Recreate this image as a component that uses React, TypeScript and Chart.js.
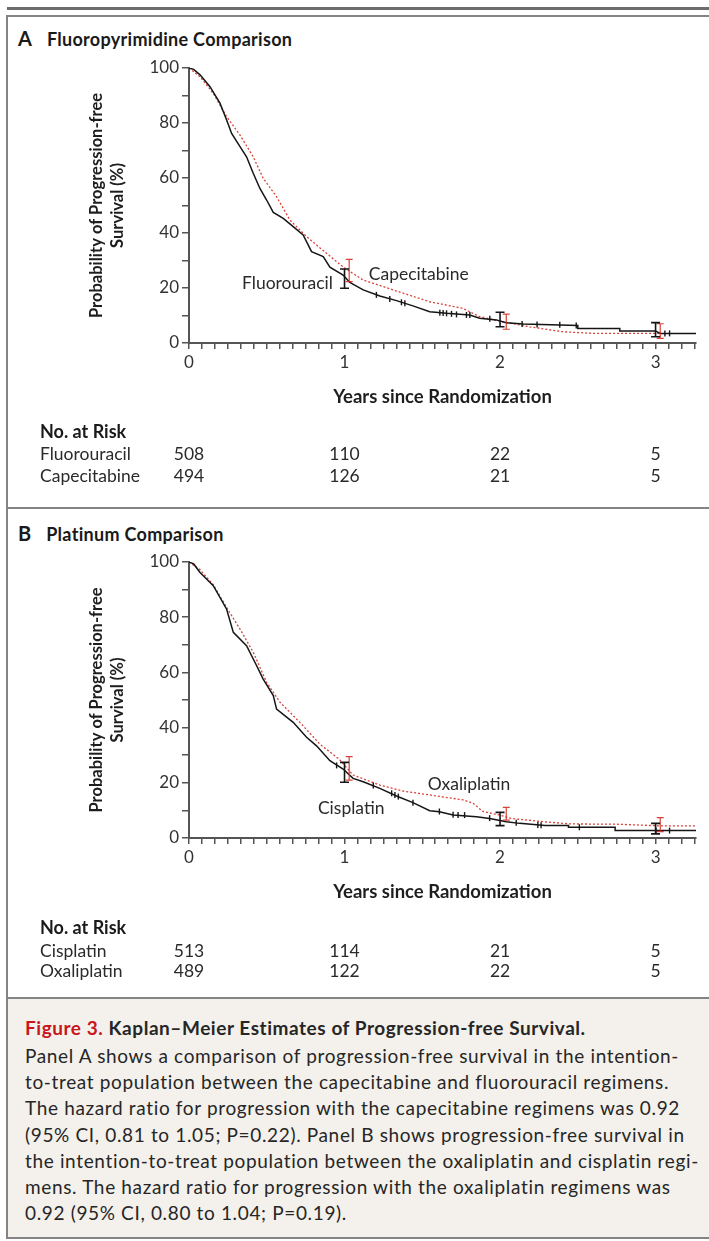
import React, { useEffect, useRef } from 'react';
import { Chart, registerables } from 'chart.js';

Chart.register(...registerables);

// ---------- shared axis data ----------
const X_MAX = 3.26;
const X_TICK_LABELS = ['0', '1', '2', '3'];
const Y_TICK_LABELS = ['0', '20', '40', '60', '80', '100'];
const RISK_TIMES = [0, 1, 2, 3];

// ---------- Panel A: Fluoropyrimidine comparison ----------
const A_FLUORO_T = [0, 0.03, 0.071, 0.135, 0.199, 0.242, 0.274, 0.328, 0.37, 0.413, 0.456, 0.499, 0.542, 0.606, 0.67, 0.734, 0.788, 0.863, 0.906, 0.991, 1.034, 1.12, 1.227, 1.334, 1.44, 1.548, 1.655, 1.805, 1.869, 1.976, 2.04, 2.15, 2.5, 2.5, 2.77, 2.77, 3.0, 3.03, 3.26];
const A_FLUORO_S = [100, 99.5, 97.5, 93.2, 87.2, 81.1, 76.2, 71.4, 67.7, 61.7, 56.2, 52, 47.5, 45.3, 42.3, 39.3, 33.2, 31.4, 27.6, 24.7, 22, 19.3, 17.1, 15.4, 13.5, 11.4, 10.8, 10.2, 9.0, 8.4, 7.4, 6.9, 6.4, 5.3, 5.3, 4.4, 4.4, 3.5, 3.5];
const A_CAPE_T = [0, 0.071, 0.156, 0.242, 0.328, 0.413, 0.477, 0.563, 0.649, 0.756, 0.884, 0.991, 1.034, 1.12, 1.334, 1.548, 1.76, 1.869, 2.019, 2.19, 2.4, 2.6, 3.03];
const A_CAPE_S = [100, 96.8, 90.8, 82.3, 75.6, 67.7, 59.9, 53.2, 44.7, 38.7, 32.6, 27.7, 26, 22.9, 18.9, 15.0, 12.6, 9.6, 7.7, 5.9, 4.1, 3.5, 3.5];
const A_FLUORO_CENSOR_T = [1.205, 1.291, 1.366, 1.388, 1.613, 1.634, 1.656, 1.688, 1.72, 1.784, 1.806, 1.934, 2.142, 2.238, 2.384, 2.49, 3.06, 3.09];
const A_FLUORO_CENSOR_S = [17.5, 16.0, 14.8, 14.5, 11.0, 10.9, 10.8, 10.6, 10.4, 10.2, 10.2, 8.8, 6.9, 6.7, 6.6, 6.4, 3.5, 3.5];
// [time, lower, upper]
const A_FLUORO_CI = [[1.0, 19.9, 26.9], [2.0, 5.9, 11.2], [3.0, 2.3, 7.4]];
const A_CAPE_CI = [[1.03, 22.3, 30.4], [2.04, 5.0, 10.5], [3.03, 1.7, 7.0]];
const A_RISK_LABELS = ['Fluorouracil', 'Capecitabine'];
const A_RISK_FLUORO = [508, 110, 22, 5];
const A_RISK_CAPE = [494, 126, 21, 5];

// ---------- Panel B: Platinum comparison ----------
const B_CIS_T = [0, 0.03, 0.071, 0.156, 0.242, 0.285, 0.37, 0.435, 0.477, 0.542, 0.563, 0.67, 0.756, 0.82, 0.906, 0.991, 1.055, 1.12, 1.227, 1.334, 1.44, 1.548, 1.61, 1.698, 1.848, 1.933, 2.04, 2.126, 2.29, 2.44, 2.44, 2.74, 2.74, 3.26];
const B_CIS_S = [100, 99.3, 96.2, 91.4, 82.9, 74.5, 69.7, 62.4, 57.6, 51.6, 46.7, 41.9, 36.5, 33.4, 28.0, 25.0, 21.6, 20.4, 18.0, 15.2, 12.8, 9.9, 9.5, 8.3, 7.7, 7.1, 5.9, 5.3, 4.5, 4.5, 3.9, 3.9, 2.7, 2.7];
const B_OXA_T = [0, 0.071, 0.156, 0.242, 0.328, 0.413, 0.499, 0.585, 0.713, 0.842, 0.97, 1.055, 1.227, 1.377, 1.548, 1.762, 1.826, 1.89, 1.997, 2.07, 2.28, 2.45, 2.75, 3.03, 3.26];
const B_OXA_S = [100, 97.2, 91.8, 83.5, 75.7, 67.3, 56.4, 49.2, 41.9, 34.0, 28.3, 22.8, 19.2, 17.0, 15.6, 13.8, 12.6, 9.6, 8.3, 7.1, 5.9, 5.1, 5.0, 4.4, 4.4];
const B_CIS_CENSOR_T = [0.949, 1.185, 1.303, 1.324, 1.346, 1.44, 1.61, 1.698, 1.73, 1.772, 1.933, 2.104, 2.243, 2.264, 2.51, 3.003, 3.09];
const B_CIS_CENSOR_S = [26.3, 19.0, 16.2, 15.6, 15.0, 12.8, 9.6, 8.4, 8.3, 8.3, 7.2, 5.5, 4.7, 4.6, 3.9, 2.7, 2.7];
const B_CIS_CI = [[1.0, 20.2, 27.4], [2.0, 4.5, 9.3], [3.0, 1.5, 5.3]];
const B_OXA_CI = [[1.03, 21.0, 29.5], [2.04, 6.5, 11.1], [3.03, 2.3, 7.4]];
const B_RISK_LABELS = ['Cisplatin', 'Oxaliplatin'];
const B_RISK_CIS = [513, 114, 21, 5];
const B_RISK_OXA = [489, 122, 22, 5];

// ---------- caption ----------
const CAPTION_LABEL = 'Figure 3.';
const CAPTION_TITLE = 'Kaplan\u2013Meier Estimates of Progression-free Survival.';
const CAPTION_LINES = [
  'Panel A shows a comparison of progression-free survival in the intention-',
  'to-treat population between the capecitabine and fluorouracil regimens.',
  'The hazard ratio for progression with the capecitabine regimens was 0.92',
  '(95% CI, 0.81 to 1.05; P=0.22). Panel B shows progression-free survival in',
  'the intention-to-treat population between the oxaliplatin and cisplatin regi-',
  'mens. The hazard ratio for progression with the oxaliplatin regimens was',
  '0.92 (95% CI, 0.80 to 1.04; P=0.19).',
];

const FONT = 'Lato, "Open Sans", sans-serif';
const BLACK = '#151515';
const RED = 'rgba(212, 45, 35, 0.9)';
const AXIS = '#555555';
const TEXT = '#2a2a2a';

type PanelCfg = {
  padTop: number;
  blackT: number[]; blackS: number[];
  redT: number[]; redS: number[];
  censorT: number[]; censorS: number[];
  blackCI: number[][]; redCI: number[][];
  riskLabels: string[]; riskRows: number[][];
  riskY: number[];
  curveLabels: { text: string; t: number; s: number; align: CanvasTextAlign }[];
};

const pair = (ts: number[], ss: number[]) => ts.map((t, i) => ({ x: t, y: ss[i] }));

function Panel({ cfg, top }: { cfg: PanelCfg; top: number }) {
  const ref = useRef<HTMLCanvasElement | null>(null);
  useEffect(() => {
    if (!ref.current) return;
    const overlay = {
      id: 'kmOverlay',
      afterDatasetsDraw(chart: any) {
        const { ctx, scales } = chart;
        const xs = scales.x, ys = scales.y;
        const drawCI = (list: number[][], color: string, w: number, cap: number) => {
          ctx.save();
          ctx.strokeStyle = color;
          ctx.lineWidth = w;
          list.forEach(([t, lo, hi]) => {
            const x = xs.getPixelForValue(t);
            const y1 = ys.getPixelForValue(lo);
            const y2 = ys.getPixelForValue(hi);
            ctx.beginPath();
            ctx.moveTo(x, y1); ctx.lineTo(x, y2);
            ctx.moveTo(x - cap, y1); ctx.lineTo(x + cap, y1);
            ctx.moveTo(x - cap, y2); ctx.lineTo(x + cap, y2);
            ctx.stroke();
          });
          ctx.restore();
        };
        drawCI(cfg.redCI, RED, 1.2, 3.5);
        drawCI(cfg.blackCI, BLACK, 1.6, 4.5);
      },
      afterDraw(chart: any) {
        const { ctx, scales } = chart;
        const xs = scales.x, ys = scales.y;
        ctx.save();
        ctx.fillStyle = TEXT;
        ctx.textBaseline = 'middle';
        ctx.font = `17.5px ${FONT}`;
        cfg.curveLabels.forEach((l) => {
          ctx.textAlign = l.align;
          ctx.fillText(l.text, xs.getPixelForValue(l.t), ys.getPixelForValue(l.s));
        });
        // number at risk table
        ctx.textAlign = 'left';
        ctx.fillStyle = '#1a1a1a';
        ctx.font = `bold 18px ${FONT}`;
        ctx.fillText('No. at Risk', 40, cfg.riskY[0]);
        ctx.font = `17.5px ${FONT}`;
        ctx.fillStyle = TEXT;
        cfg.riskLabels.forEach((lab, r) => {
          const y = cfg.riskY[r + 1];
          ctx.textAlign = 'left';
          ctx.fillText(lab, 40, y);
          ctx.textAlign = 'center';
          cfg.riskRows[r].forEach((n, i) => {
            ctx.fillText(String(n), xs.getPixelForValue(RISK_TIMES[i]), y);
          });
        });
        ctx.restore();
      },
    };

    const chart = new Chart(ref.current, {
      type: 'scatter',
      data: {
        datasets: [
          {
            data: pair(cfg.redT, cfg.redS),
            showLine: true,
            borderColor: RED,
            borderWidth: 1.3,
            borderDash: [2, 2],
            pointRadius: 0,
            order: 3,
          } as any,
          {
            data: pair(cfg.blackT, cfg.blackS),
            showLine: true,
            borderColor: BLACK,
            borderWidth: 1.5,
            pointRadius: 0,
            order: 2,
          } as any,
          {
            data: pair(cfg.censorT, cfg.censorS),
            showLine: false,
            pointStyle: 'line',
            rotation: 90,
            pointRadius: 3,
            borderColor: BLACK,
            backgroundColor: BLACK,
            pointBorderWidth: 1.4,
            order: 1,
          } as any,
        ],
      },
      options: {
        animation: false,
        responsive: false,
        maintainAspectRatio: false,
        events: [],
        layout: { padding: { top: cfg.padTop, right: 13, bottom: 92, left: 0 } },
        plugins: { legend: { display: false }, tooltip: { enabled: false } },
        scales: {
          x: {
            type: 'linear',
            min: 0,
            max: X_MAX,
            afterBuildTicks: (s: any) => {
              s.ticks = Array.from({ length: 40 }, (_, i) => ({ value: i / 12 }));
            },
            afterFit: (s: any) => { s.height = 65; },
            ticks: {
              autoSkip: false,
              maxRotation: 0,
              padding: 3,
              color: '#333',
              font: { size: 17, family: FONT },
              callback: (v: any) => {
                const r = Math.round(v);
                return Math.abs(v - r) < 1e-6 && X_TICK_LABELS[r] !== undefined ? X_TICK_LABELS[r] : '';
              },
            },
            grid: { drawOnChartArea: false, drawTicks: true, tickLength: 6, color: AXIS, lineWidth: 1.5 },
            border: { display: true, color: AXIS, width: 2 },
            title: {
              display: true,
              text: 'Years since Randomization',
              color: '#1e1e1e',
              font: { size: 18.5, weight: 'bold', family: FONT, lineHeight: 1.2 },
              padding: { top: 0, bottom: 0 },
            },
          },
          y: {
            type: 'linear',
            min: 0,
            max: 100,
            afterBuildTicks: (s: any) => {
              s.ticks = Array.from({ length: 11 }, (_, i) => ({ value: i * 10 }));
            },
            afterFit: (s: any) => { s.width = 189; },
            ticks: {
              autoSkip: false,
              padding: 3,
              color: '#333',
              font: { size: 17, family: FONT },
              callback: (v: any) => (v % 20 === 0 ? Y_TICK_LABELS[v / 20] : ''),
            },
            grid: { drawOnChartArea: false, drawTicks: true, tickLength: 7, color: AXIS, lineWidth: 1.5 },
            border: { display: true, color: AXIS, width: 2 },
            title: {
              display: true,
              text: ['Probability of Progression-free', 'Survival (%)'],
              color: '#1e1e1e',
              font: { size: 16.5, weight: 'bold', family: FONT, lineHeight: 1.27 },
              padding: { top: 86, bottom: 0 },
            },
          },
        },
      } as any,
      plugins: [overlay],
    });
    return () => chart.destroy();
  }, [cfg]);
  return (
    <canvas
      ref={ref}
      width={709}
      height={450}
      style={{ position: 'absolute', left: 0, top, width: 709, height: 450 }}
    />
  );
}

const PANEL_A: PanelCfg = {
  padTop: 18,
  blackT: A_FLUORO_T, blackS: A_FLUORO_S,
  redT: A_CAPE_T, redS: A_CAPE_S,
  censorT: A_FLUORO_CENSOR_T, censorS: A_FLUORO_CENSOR_S,
  blackCI: A_FLUORO_CI, redCI: A_CAPE_CI,
  riskLabels: A_RISK_LABELS, riskRows: [A_RISK_FLUORO, A_RISK_CAPE],
  riskY: [382, 404, 426],
  curveLabels: [
    { text: 'Fluorouracil', t: 0.925, s: 21.8, align: 'right' },
    { text: 'Capecitabine', t: 1.156, s: 25.1, align: 'left' },
  ],
};

const PANEL_B: PanelCfg = {
  padTop: 17,
  blackT: B_CIS_T, blackS: B_CIS_S,
  redT: B_OXA_T, redS: B_OXA_S,
  censorT: B_CIS_CENSOR_T, censorS: B_CIS_CENSOR_S,
  blackCI: B_CIS_CI, redCI: B_OXA_CI,
  riskLabels: B_RISK_LABELS, riskRows: [B_RISK_CIS, B_RISK_OXA],
  riskY: [383, 406, 426],
  curveLabels: [
    { text: 'Oxaliplatin', t: 1.535, s: 19.6, align: 'left' },
    { text: 'Cisplatin', t: 0.829, s: 10.9, align: 'left' },
  ],
};

const BORDER = '2px solid #848484';

export default function App() {
  return (
    <div
      style={{
        position: 'absolute', left: 0, top: 0, width: 709, height: 1241,
        overflow: 'hidden', background: '#fff', fontFamily: FONT, color: '#1a1a1a',
      }}
    >
      <div style={{ position: 'absolute', left: 7, top: 7, width: 702, height: 3, background: '#6c6c6c' }} />
      <div style={{ position: 'absolute', left: 6, top: 15, width: 703, height: 493, borderLeft: BORDER, borderTop: BORDER, boxSizing: 'border-box' }} />
      <div style={{ position: 'absolute', left: 6, top: 507, width: 703, height: 491, borderLeft: BORDER, borderTop: BORDER, boxSizing: 'border-box' }} />
      <div style={{ position: 'absolute', left: 6, top: 997, width: 703, height: 242, borderLeft: BORDER, borderTop: BORDER, borderBottom: BORDER, boxSizing: 'border-box', background: '#f4f1ec' }} />

      <div style={{ position: 'absolute', left: 18, top: 26, lineHeight: '24px', whiteSpace: 'nowrap', fontWeight: 700 }}>
        <span style={{ fontSize: 20 }}>A</span>
        <span style={{ fontSize: 18, marginLeft: 15, letterSpacing: 0.3 }}>Fluoropyrimidine Comparison</span>
      </div>
      <div style={{ position: 'absolute', left: 18, top: 521, lineHeight: '24px', whiteSpace: 'nowrap', fontWeight: 700 }}>
        <span style={{ fontSize: 20 }}>B</span>
        <span style={{ fontSize: 18, marginLeft: 15, letterSpacing: 0.3 }}>Platinum Comparison</span>
      </div>

      <Panel cfg={PANEL_A} top={50} />
      <Panel cfg={PANEL_B} top={545} />

      <div style={{ position: 'absolute', left: 25, top: 1015, lineHeight: '26px', whiteSpace: 'nowrap', fontWeight: 700, fontSize: 19, letterSpacing: 0.55 }}>
        <span style={{ color: '#c8161d' }}>{CAPTION_LABEL}</span>{' '}
        <span style={{ color: '#262626' }}>{CAPTION_TITLE}</span>
      </div>
      <div style={{ position: 'absolute', left: 25, top: 1043, lineHeight: '26.2px', whiteSpace: 'nowrap', fontSize: 19, letterSpacing: 0.65, color: '#262626' }}>
        {CAPTION_LINES.map((l, i) => (
          <div key={i}>{l}</div>
        ))}
      </div>
    </div>
  );
}
